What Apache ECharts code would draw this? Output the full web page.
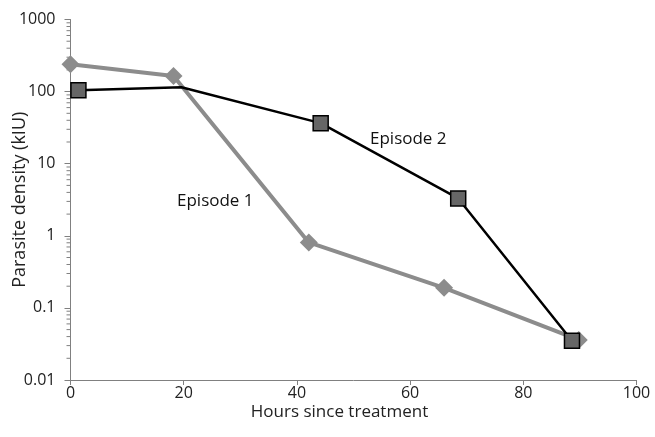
<!DOCTYPE html>
<html>
<head>
<meta charset="utf-8">
<script src="https://cdn.jsdelivr.net/npm/echarts@6/dist/echarts.min.js"></script>
<style>html,body{margin:0;padding:0;background:#fff}#c{width:655px;height:437px}</style>
</head>
<body>
<div id="c"></div>
<script>
const episode1X = [0, 18.2, 42.1, 66.0, 89.8];
const episode1Y = [240, 165, 0.81, 0.19, 0.036];
const episode2X = [1.4, 19.6, 44.2, 68.5, 88.6];
const episode2Y = [104, 115, 36.5, 3.3, 0.035];
const episode2Marker = [true, false, true, true, true];
const yTickLabels = ['0.01', '0.1', '1', '10', '100', '1000'];
const xTickLabels = ['0', '20', '40', '60', '80', '100'];
const minorTickValues = [];
for (let e = -2; e < 3; e++) for (let m = 2; m <= 9; m++) minorTickValues.push(m * Math.pow(10, e));

const FONT = '"Open Sans", "Noto Sans", sans-serif';
const chart = echarts.init(document.getElementById('c'), null, {renderer: 'canvas'});

const e1 = episode1X.map((x, i) => [x, episode1Y[i]]);
const e2 = episode2X.map((x, i) => episode2Marker[i] ? [x, episode2Y[i]] : {value: [x, episode2Y[i]], symbol: 'none'});

chart.setOption({
  animation: false,
  backgroundColor: '#fff',
  grid: {left: 70.5, right: 18.5, top: 19.5, bottom: 57, containLabel: false, outerBoundsMode: 'none'},
  xAxis: {
    type: 'value', min: 0, max: 100, interval: 20,
    name: 'Hours since treatment', nameLocation: 'middle', nameGap: 24, nameMoveOverlap: false,
    nameTextStyle: {fontFamily: FONT, fontSize: 17, color: '#222', padding: [0, 28, 0, 0]},
    axisLine: {lineStyle: {color: '#808080', width: 1}},
    axisTick: {show: true, inside: false, length: 5, lineStyle: {color: '#808080'}},
    splitLine: {show: false},
    axisLabel: {fontFamily: FONT, fontSize: 16, color: '#222', margin: 5,
      formatter: v => xTickLabels[Math.round(v / 20)]}
  },
  yAxis: {
    type: 'log', logBase: 10, min: 0.01, max: 1000,
    name: 'Parasite density (kIU)', nameLocation: 'middle', nameGap: 42, nameRotate: 90, nameMoveOverlap: false,
    nameTextStyle: {fontFamily: FONT, fontSize: 18, color: '#222'},
    axisLine: {show: true, lineStyle: {color: '#808080', width: 1}},
    axisTick: {show: true, inside: false, length: 6, lineStyle: {color: '#808080'}},
    splitLine: {show: false},
    axisLabel: {fontFamily: FONT, fontSize: 16, color: '#222', margin: 15,
      formatter: v => yTickLabels[Math.round(Math.log10(v)) + 2]}
  },
  series: [
    {
      type: 'custom', silent: true, clip: false, z: 1,
      data: minorTickValues.map(v => [0, v]),
      renderItem: (params, api) => {
        const p = api.coord([0, api.value(1)]);
        return {type: 'line', shape: {x1: p[0] - 4, y1: p[1], x2: p[0], y2: p[1]},
          style: {stroke: '#808080', lineWidth: 1}};
      }
    },
    {
      name: 'Episode 1', type: 'line', data: e1, z: 3,
      symbol: 'diamond', symbolSize: [18, 18],
      lineStyle: {color: '#8c8c8c', width: 4},
      itemStyle: {color: '#8c8c8c', borderWidth: 0}
    },
    {
      name: 'Episode 2', type: 'line', data: e2, z: 4,
      symbol: 'rect', symbolSize: 15,
      lineStyle: {color: '#000', width: 2.5},
      itemStyle: {color: '#666666', borderColor: '#000', borderWidth: 1.5}
    }
  ],
  graphic: [
    {type: 'text', left: 177, top: 193, style: {text: 'Episode 1', fontFamily: FONT, fontSize: 17, fill: '#111'}},
    {type: 'text', left: 370, top: 131, style: {text: 'Episode 2', fontFamily: FONT, fontSize: 17, fill: '#111'}}
  ]
});
</script>
</body>
</html>
